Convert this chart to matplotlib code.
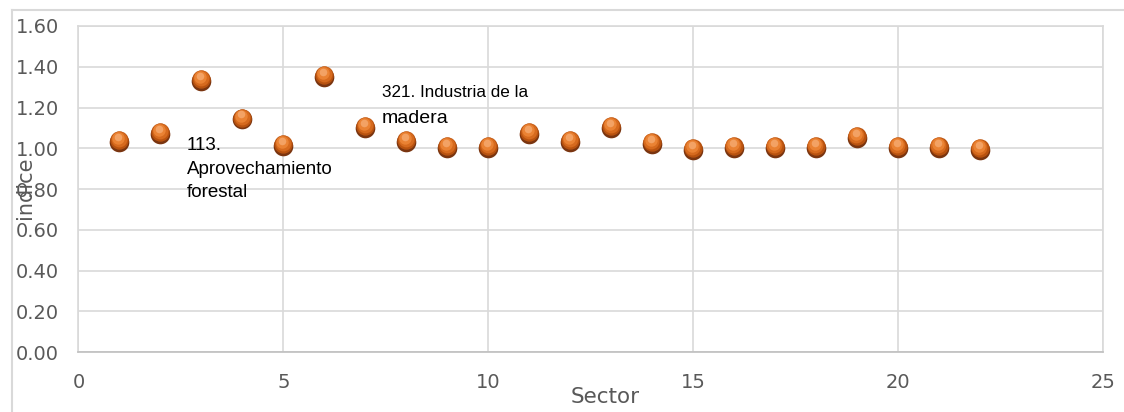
import numpy as np
import matplotlib
matplotlib.use('Agg')
import matplotlib.pyplot as plt
import matplotlib.transforms as mtransforms
from matplotlib.lines import Line2D

# sector number and index value
sector = list(range(1, 23))
indice = [1.04, 1.08, 1.34, 1.15, 1.02, 1.36, 1.11, 1.04, 1.01, 1.01, 1.08,
          1.04, 1.11, 1.03, 1.00, 1.01, 1.01, 1.01, 1.06, 1.01, 1.01, 1.00]

x_ticks = [0, 5, 10, 15, 20, 25]
y_ticks = [0.0, 0.2, 0.4, 0.6, 0.8, 1.0, 1.2, 1.4, 1.6]

grey = '#595959'
grid_c = '#D9D9D9'

fig = plt.figure(figsize=(11.24, 4.12), dpi=100)
ax = fig.add_axes([0.0698, 0.1456, 0.9115, 0.7913])

# outer chart frame
fig.add_artist(Line2D([12/1124, 12/1124], [0, 1-10/412], transform=fig.transFigure,
                      color=grid_c, lw=1.5))
fig.add_artist(Line2D([12/1124, 1], [1-10/412, 1-10/412], transform=fig.transFigure,
                      color=grid_c, lw=1.5))

ax.set_xlim(0, 25)
ax.set_ylim(0, 1.6)
ax.set_xticks(x_ticks)
ax.set_yticks(y_ticks)
ax.set_yticklabels(['{:.2f}'.format(v) for v in y_ticks])
ax.grid(True, color=grid_c, lw=1.2)
ax.set_axisbelow(True)
for side in ['top', 'right', 'left']:
    ax.spines[side].set_color(grid_c)
    ax.spines[side].set_linewidth(1.2)
ax.spines['bottom'].set_color('#BFBFBF')
ax.spines['bottom'].set_linewidth(1.2)
ax.tick_params(length=0, labelsize=14, labelcolor=grey)
ax.tick_params(axis='x', pad=15)
ax.tick_params(axis='y', pad=14)

# fake 3D spheres: dark rim, orange body, soft highlight
layers = [
    (0.0, -1.2, 200, '#7A3510'),
    (0.0, 0.0, 175, '#B8520F'),
    (-0.5, 0.8, 130, '#D66A1E'),
    (-0.8, 1.5, 80, '#EA8233'),
    (-1.0, 2.3, 30, '#F3A264'),
]
for dx, dy, s, c in layers:
    tr = mtransforms.offset_copy(ax.transData, fig=fig, x=dx, y=dy, units='points')
    ax.scatter(sector, indice, s=s, color=c, transform=tr, zorder=3, linewidths=0)

ax.text(2.65, 1.055, '113.\nAprovechamiento\nforestal', fontsize=13.5,
        family='Liberation Sans', va='top', ha='left', linespacing=1.5, color='black')
ax.text(7.4, 1.275, '321. Industria de la', fontsize=12.3,
        family='Liberation Sans', va='center', ha='left', color='black')
ax.text(7.4, 1.147, 'madera', fontsize=14,
        family='Liberation Sans', va='center', ha='left', color='black')

fig.text(605/1124, 1-397/412, 'Sector', fontsize=15.5, color=grey, ha='center', va='center')
fig.text(25/1124, 1-188/412, 'indice', fontsize=15, color=grey, ha='center', va='center',
         rotation=90)

fig.savefig('out.png', dpi=100)
